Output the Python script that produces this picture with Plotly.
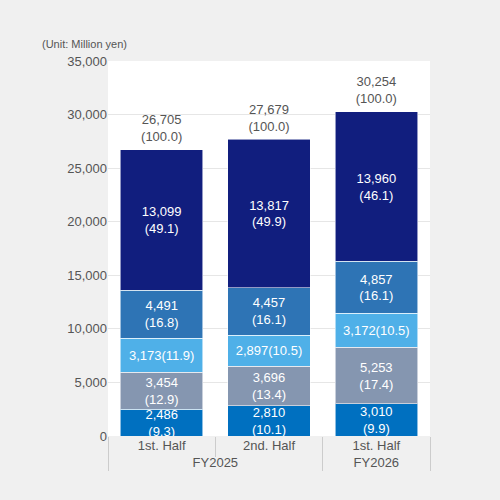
import plotly.graph_objects as go

# データ(単位: 百万円)
years = ["FY2025", "FY2025", "FY2026"]
halves = ["1st. Half", "2nd. Half", "1st. Half"]
totals = [26705, 27679, 30254]

seg1 = [2486, 2810, 3010]
seg1_pct = [9.3, 10.1, 9.9]
seg2 = [3454, 3696, 5253]
seg2_pct = [12.9, 13.4, 17.4]
seg3 = [3173, 2897, 3172]
seg3_pct = [11.9, 10.5, 10.5]
seg4 = [4491, 4457, 4857]
seg4_pct = [16.8, 16.1, 16.1]
seg5 = [13099, 13817, 13960]
seg5_pct = [49.1, 49.9, 46.1]

FONT = "Liberation Sans, Arial, sans-serif"
x = [years, halves]

series = [
    (seg1, seg1_pct, "#0070c0", "two"),
    (seg2, seg2_pct, "#8596b0", "two"),
    (seg3, seg3_pct, "#4fb0e8", "one"),
    (seg4, seg4_pct, "#2e74b5", "two"),
    (seg5, seg5_pct, "#111e7e", "two"),
]

fig = go.Figure()
for vals, pct, color, style in series:
    if style == "one":
        txt = [f"{v:,}({p:.1f})" for v, p in zip(vals, pct)]
    else:
        txt = [f"{v:,}<br>({p:.1f})" for v, p in zip(vals, pct)]
    fig.add_trace(go.Bar(
        x=x, y=vals, text=txt, textposition="inside", insidetextanchor="middle",
        constraintext="none", textfont=dict(color="white", size=13, family=FONT),
        marker=dict(color=color, line=dict(color="rgba(255,255,255,0.55)", width=1)),
        hoverinfo="skip", showlegend=False))

# 合計ラベル(透明マーカーで少し上へ逃がす)
fig.add_trace(go.Scatter(
    x=x, y=totals, mode="markers+text", textposition="top center",
    marker=dict(size=7, color="rgba(0,0,0,0)"),
    text=[f"{t:,}<br>(100.0)" for t in totals],
    textfont=dict(color="#555555", size=13, family=FONT),
    hoverinfo="skip", showlegend=False))

fig.add_annotation(text="(Unit: Million yen)", xref="paper", yref="paper",
                   x=-0.211, y=1.025, xanchor="left", yanchor="bottom", showarrow=False,
                   font=dict(color="#555555", size=11, family=FONT))

fig.update_layout(
    width=500, height=500, barmode="stack", bargap=0.23,
    paper_bgcolor="#f0f0f0", plot_bgcolor="white",
    font=dict(family=FONT, color="#555555", size=13),
    margin=dict(l=108, r=70, t=61, b=64, autoexpand=False),
    xaxis=dict(type="multicategory", tickfont=dict(color="#555555", size=13),
               showdividers=True, dividercolor="#cccccc", dividerwidth=1,
               ticks="outside", tickcolor="#cccccc", ticklen=20,
               showline=False, showgrid=False),
    yaxis=dict(range=[0, 35000], dtick=5000, tickformat=",", gridcolor="#e6e6e6",
               zeroline=False, showline=False, ticks="", automargin=False,
               tickfont=dict(color="#555555", size=13)),
)

# ページ余白を消して 0,0 から描く
fig.write_html("out.html", config=dict(displayModeBar=False),
               post_script="document.body.style.margin='0';"
                           "document.body.style.background='#f0f0f0';")
